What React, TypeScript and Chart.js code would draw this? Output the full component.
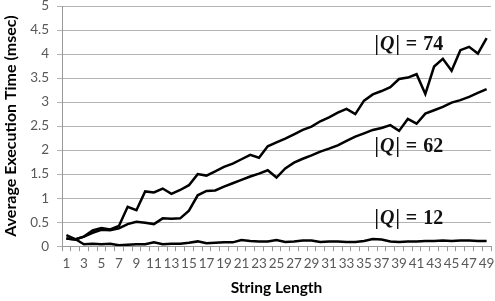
import React, { useEffect, useRef } from "react";
import { Chart, registerables } from "chart.js";
Chart.register(...registerables);

const categories = [
  "1","2","3","4","5","6","7","8","9","10","11","12","13","14","15","16","17","18","19","20",
  "21","22","23","24","25","26","27","28","29","30","31","32","33","34","35","36","37","38","39","40",
  "41","42","43","44","45","46","47","48","49",
];

const q74 = [
  0.16, 0.14, 0.2, 0.33, 0.38, 0.35, 0.42, 0.82, 0.75, 1.14,
  1.12, 1.2, 1.09, 1.17, 1.27, 1.5, 1.47, 1.56, 1.65, 1.72,
  1.81, 1.9, 1.84, 2.08, 2.16, 2.24, 2.33, 2.42, 2.49, 2.6,
  2.68, 2.78, 2.86, 2.75, 3.03, 3.16, 3.23, 3.31, 3.48, 3.51,
  3.58, 3.17, 3.74, 3.9, 3.65, 4.08, 4.15, 4.01, 4.33,
];

const q62 = [
  0.16, 0.14, 0.2, 0.28, 0.34, 0.33, 0.37, 0.46, 0.51, 0.49,
  0.46, 0.58, 0.57, 0.58, 0.74, 1.06, 1.15, 1.16, 1.24, 1.31,
  1.38, 1.45, 1.51, 1.58, 1.43, 1.62, 1.74, 1.82, 1.89, 1.97,
  2.03, 2.1, 2.19, 2.28, 2.35, 2.42, 2.46, 2.52, 2.4, 2.65,
  2.55, 2.76, 2.83, 2.9, 2.99, 3.04, 3.11, 3.19, 3.27,
];

const q12 = [
  0.23, 0.15, 0.04, 0.05, 0.04, 0.05, 0.02, 0.03, 0.04, 0.04,
  0.08, 0.04, 0.05, 0.05, 0.07, 0.1, 0.06, 0.07, 0.08, 0.08,
  0.13, 0.11, 0.1, 0.1, 0.13, 0.09, 0.1, 0.12, 0.12, 0.09,
  0.1, 0.1, 0.09, 0.09, 0.11, 0.15, 0.14, 0.1, 0.09, 0.1,
  0.1, 0.11, 0.11, 0.12, 0.11, 0.12, 0.12, 0.11, 0.11,
];

const seriesNames = ["74", "62", "12"];
// annotation anchors in data space: [category index (0-based, fractional), value]
const annotationIndex = [35.2, 35.2, 35.2];
const annotationValue = [4.19, 2.06, 0.56];

const annotationPlugin = {
  id: "qLabels",
  afterDatasetsDraw(chart: any) {
    const ctx = chart.ctx;
    const xs = chart.scales.x;
    const ys = chart.scales.y;
    ctx.save();
    ctx.fillStyle = "#111";
    ctx.textBaseline = "middle";
    ctx.textAlign = "left";
    const fam = '"Liberation Serif", "DejaVu Serif", serif';
    seriesNames.forEach((name, k) => {
      const x0 = xs.getPixelForValue(annotationIndex[k]);
      const y0 = ys.getPixelForValue(annotationValue[k]);
      let x = x0;
      ctx.font = `bold 20px ${fam}`;
      ctx.fillText("|", x, y0);
      x += ctx.measureText("|").width + 1;
      ctx.font = `italic bold 20px ${fam}`;
      ctx.fillText("Q", x, y0);
      x += ctx.measureText("Q").width + 1;
      ctx.font = `bold 20px ${fam}`;
      ctx.fillText("|", x, y0);
      x += ctx.measureText("|").width + 6;
      ctx.fillText("=", x, y0);
      x += ctx.measureText("=").width + 6;
      ctx.fillText(name, x, y0);
    });
    ctx.restore();
  },
};

export default function App() {
  const ref = useRef<HTMLCanvasElement | null>(null);
  useEffect(() => {
    if (!ref.current) return;
    const lineStyle = {
      borderColor: "#000",
      borderWidth: 2.5,
      pointRadius: 0,
      tension: 0,
      fill: false,
    };
    const chart = new Chart(ref.current, {
      type: "line",
      data: {
        labels: categories,
        datasets: [
          { label: "|Q| = 74", data: q74, ...lineStyle },
          { label: "|Q| = 62", data: q62, ...lineStyle },
          { label: "|Q| = 12", data: q12, ...lineStyle },
        ],
      },
      options: {
        responsive: false,
        animation: false,
        layout: { padding: { left: 0, right: 4, top: 6, bottom: 0 } },
        plugins: {
          legend: { display: false },
          tooltip: { enabled: false },
        },
        scales: {
          x: {
            offset: true,
            grid: {
              offset: true,
              drawOnChartArea: false,
              drawTicks: true,
              tickLength: 5,
              color: "#999",
            },
            border: { color: "#999", width: 1 },
            ticks: {
              autoSkip: false,
              maxRotation: 0,
              minRotation: 0,
              padding: 4,
              color: "#595959",
              font: { family: "Lato", size: 13.5 },
              callback: (_v: any, i: number) => (i % 2 === 0 ? categories[i] : ""),
            },
            title: {
              display: true,
              text: "String Length",
              color: "#000",
              font: { family: "Lato", size: 15.5, weight: "bold" },
              padding: { top: 3, bottom: 4 },
            },
            afterFit: (s: any) => {
              s.paddingRight = 0;
              s.paddingLeft = 0;
            },
          },
          y: {
            min: 0,
            max: 5,
            ticks: {
              stepSize: 0.5,
              color: "#595959",
              font: { family: "Lato", size: 13.5 },
              padding: 8,
              callback: (v: any) => String(v),
            },
            grid: {
              color: "#b3b3b3",
              lineWidth: 1,
              tickLength: 5,
            },
            border: { color: "#999", width: 1 },
            title: {
              display: true,
              text: "Average Execution Time (msec)",
              color: "#000",
              font: { family: "Lato", size: 16, weight: "bold" },
              padding: { top: 1, bottom: 1 },
            },
            afterFit: (s: any) => {
              s.width = 62;
              s.paddingTop = 0;
              s.paddingBottom = 0;
            },
          },
        },
      },
      plugins: [annotationPlugin],
    });
    return () => chart.destroy();
  }, []);
  return (
    <div style={{ position: "absolute", left: 0, top: 0, width: 495, height: 301, background: "#fff" }}>
      <canvas ref={ref} width={495} height={301} />
    </div>
  );
}
